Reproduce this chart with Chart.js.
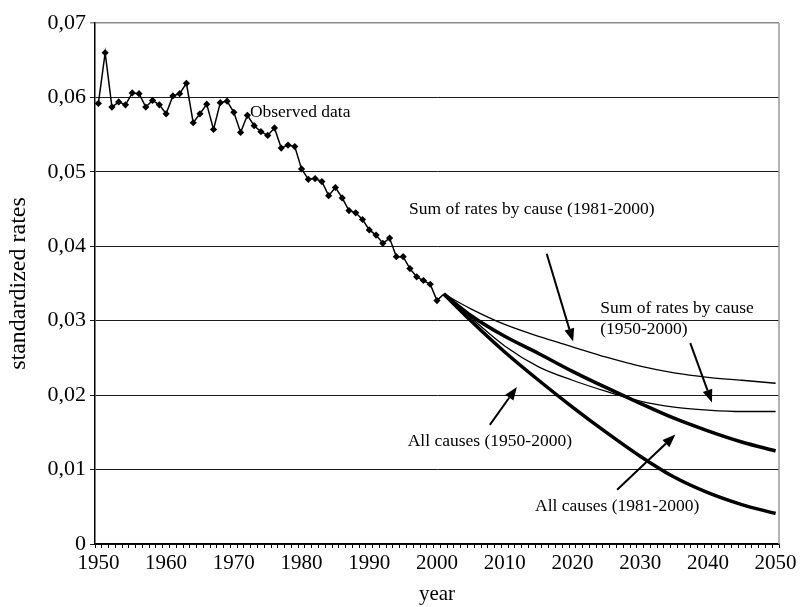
<!DOCTYPE html>
<html>
<head>
<meta charset="utf-8">
<script src="https://cdn.jsdelivr.net/npm/chart.js@4/dist/chart.umd.min.js"></script>
<style>
  html, body { margin: 0; padding: 0; background: #fff; }
  #wrap { width: 809px; height: 607px; }
</style>
</head>
<body>
<div id="wrap"><canvas id="chart"></canvas></div>
<script>
// years on the category axis
const years = [];
for (let y = 1950; y <= 2050; y++) years.push(String(y));

// observed standardized rates 1950-2000 (+ link point 2001 where projections start)
const obsYears = ['1950','1951','1952','1953','1954','1955','1956','1957','1958','1959',
  '1960','1961','1962','1963','1964','1965','1966','1967','1968','1969',
  '1970','1971','1972','1973','1974','1975','1976','1977','1978','1979',
  '1980','1981','1982','1983','1984','1985','1986','1987','1988','1989',
  '1990','1991','1992','1993','1994','1995','1996','1997','1998','1999','2000','2001'];
const obsValues = [0.0592, 0.0660, 0.0587, 0.0594, 0.0590, 0.0606, 0.0605, 0.0587, 0.0596, 0.0590,
  0.0578, 0.0602, 0.0605, 0.0619, 0.0566, 0.0578, 0.0591, 0.0557, 0.0593, 0.0595,
  0.0580, 0.0553, 0.0576, 0.0562, 0.0554, 0.0549, 0.0559, 0.0532, 0.0536, 0.0534,
  0.0504, 0.0490, 0.0491, 0.0487, 0.0468, 0.0479, 0.0465, 0.0448, 0.0445, 0.0436,
  0.0422, 0.0415, 0.0404, 0.0411, 0.0386, 0.0386, 0.0370, 0.0359, 0.0354, 0.0349, 0.0327, 0.0336];

// projections
const projYears = ['2001','2005','2010','2015','2020','2025','2030','2035','2040','2045','2050'];
const sumCause8100 = [0.0336, 0.0316, 0.0295, 0.0279, 0.0265, 0.0251, 0.0239, 0.0230, 0.0224, 0.0220, 0.0216];
const sumCause5000 = [0.0336, 0.0304, 0.0266, 0.0238, 0.0220, 0.0205, 0.0192, 0.0184, 0.0180, 0.0178, 0.0178];
const allCause8100 = [0.0336, 0.0307, 0.0279, 0.0256, 0.0232, 0.0210, 0.0189, 0.0169, 0.0152, 0.0137, 0.0125];
const allCause5000 = [0.0336, 0.0300, 0.0258, 0.0220, 0.0184, 0.0150, 0.0118, 0.0090, 0.0069, 0.0053, 0.0041];

const yTicks = [0, 0.01, 0.02, 0.03, 0.04, 0.05, 0.06, 0.07];

// text labels and arrows in data units (year, rate)
const notes = [
  { text: 'Observed data', year: 1979.8, value: 0.0580, align: 'center' },
  { text: 'Sum of rates by cause (1981-2000)', year: 2014.0, value: 0.0449, align: 'center' },
  { text: 'Sum of rates by cause', year: 2024.1, value: 0.0317, align: 'left' },
  { text: '(1950-2000)', year: 2024.1, value: 0.0288, align: 'left' },
  { text: 'All causes (1950-2000)', year: 2007.8, value: 0.0138, align: 'center' },
  { text: 'All causes (1981-2000)', year: 2026.6, value: 0.0051, align: 'center' }
];
const arrows = [
  { from: [2016.2, 0.0390], to: [2020.1, 0.0272] },
  { from: [2037.4, 0.0270], to: [2040.6, 0.0190] },
  { from: [2007.8, 0.0160], to: [2011.8, 0.0211] },
  { from: [2026.6, 0.0073], to: [2035.2, 0.0147] }
];

const serif = '"Liberation Serif", "Times New Roman", serif';

function pts(xs, vs) { return xs.map((x, i) => ({ x: x, y: vs[i] })); }

const annotate = {
  id: 'annotate',
  afterDatasetsDraw(chart) {
    const ctx = chart.ctx, xs = chart.scales.x, ys = chart.scales.y, area = chart.chartArea;
    const px = yr => xs.getPixelForValue(yr - 1950);
    ctx.save();
    // right border
    ctx.strokeStyle = '#9a9a9a';
    ctx.lineWidth = 1.5;
    ctx.beginPath();
    ctx.moveTo(area.right, area.top);
    ctx.lineTo(area.right, area.bottom);
    ctx.stroke();

    ctx.fillStyle = '#000';
    ctx.font = '17.5px ' + serif;
    ctx.textBaseline = 'middle';
    notes.forEach(n => {
      ctx.textAlign = n.align;
      ctx.fillText(n.text, px(n.year), ys.getPixelForValue(n.value));
    });

    ctx.strokeStyle = '#000';
    ctx.lineWidth = 2;
    arrows.forEach(a => {
      const x0 = px(a.from[0]), y0 = ys.getPixelForValue(a.from[1]);
      const x1 = px(a.to[0]), y1 = ys.getPixelForValue(a.to[1]);
      const ang = Math.atan2(y1 - y0, x1 - x0);
      const len = 13, half = 5;
      const bx = x1 - len * Math.cos(ang), by = y1 - len * Math.sin(ang);
      ctx.beginPath();
      ctx.moveTo(x0, y0);
      ctx.lineTo(bx, by);
      ctx.stroke();
      ctx.beginPath();
      ctx.moveTo(x1, y1);
      ctx.lineTo(bx + half * Math.sin(ang), by - half * Math.cos(ang));
      ctx.lineTo(bx - half * Math.sin(ang), by + half * Math.cos(ang));
      ctx.closePath();
      ctx.fill();
    });
    ctx.restore();
  }
};

const projStyle = (w) => ({
  borderColor: '#000',
  borderWidth: w,
  pointRadius: 0,
  cubicInterpolationMode: 'monotone',
  fill: false
});

new Chart(document.getElementById('chart'), {
  type: 'line',
  data: {
    labels: years,
    datasets: [
      {
        label: 'Observed data',
        data: pts(obsYears, obsValues),
        borderColor: '#000',
        borderWidth: 1.5,
        backgroundColor: '#000',
        pointStyle: 'rectRot',
        pointRadius: obsYears.map(y => y === '2001' ? 0 : 3.6),
        pointBorderWidth: 0,
        tension: 0
      },
      Object.assign({ label: 'Sum of rates by cause (1981-2000)', data: pts(projYears, sumCause8100) }, projStyle(1.3)),
      Object.assign({ label: 'Sum of rates by cause (1950-2000)', data: pts(projYears, sumCause5000) }, projStyle(1.3)),
      Object.assign({ label: 'All causes (1981-2000)', data: pts(projYears, allCause8100) }, projStyle(3.5)),
      Object.assign({ label: 'All causes (1950-2000)', data: pts(projYears, allCause5000) }, projStyle(3.5))
    ]
  },
  options: {
    responsive: true,
    maintainAspectRatio: false,
    animation: false,
    spanGaps: true,
    layout: { padding: { left: 0, right: 30, top: 23, bottom: 0 } },
    plugins: {
      legend: { display: false },
      tooltip: { enabled: false }
    },
    scales: {
      x: {
        type: 'category',
        offset: true,
        grid: {
          offset: true,
          drawOnChartArea: false,
          drawTicks: true,
          tickLength: 4,
          color: '#000',
          lineWidth: 1
        },
        border: { display: true, color: '#000', width: 1.5 },
        ticks: {
          autoSkip: false,
          maxRotation: 0,
          padding: 3,
          color: '#000',
          font: { family: serif, size: 21 },
          callback: function (value) {
            const lab = this.getLabelForValue(value);
            return Number(lab) % 10 === 0 ? lab : '';
          }
        },
        title: {
          display: true,
          text: 'year',
          color: '#000',
          font: { family: serif, size: 21 },
          padding: { top: 0, bottom: 0 }
        },
        afterFit: s => { s.height = 63; }
      },
      y: {
        min: 0,
        max: 0.07,
        afterBuildTicks: s => { s.ticks = yTicks.map(v => ({ value: v })); },
        grid: {
          color: c => (c.tick && c.tick.value >= 0.07 ? '#8a8a8a' : '#1a1a1a'),
          lineWidth: c => (c.tick && c.tick.value >= 0.07 ? 1.5 : 1),
          tickLength: 5
        },
        border: { display: true, color: '#000', width: 1.5 },
        ticks: {
          padding: 4,
          color: '#000',
          font: { family: serif, size: 22 },
          callback: v => (v === 0 ? '0' : v.toFixed(2).replace('.', ','))
        },
        title: {
          display: true,
          text: 'standardized rates',
          color: '#000',
          font: { family: serif, size: 24 },
          padding: { top: 4, bottom: 0 }
        },
        afterFit: s => { s.width = 95; }
      }
    }
  },
  plugins: [annotate]
});
</script>
</body>
</html>
